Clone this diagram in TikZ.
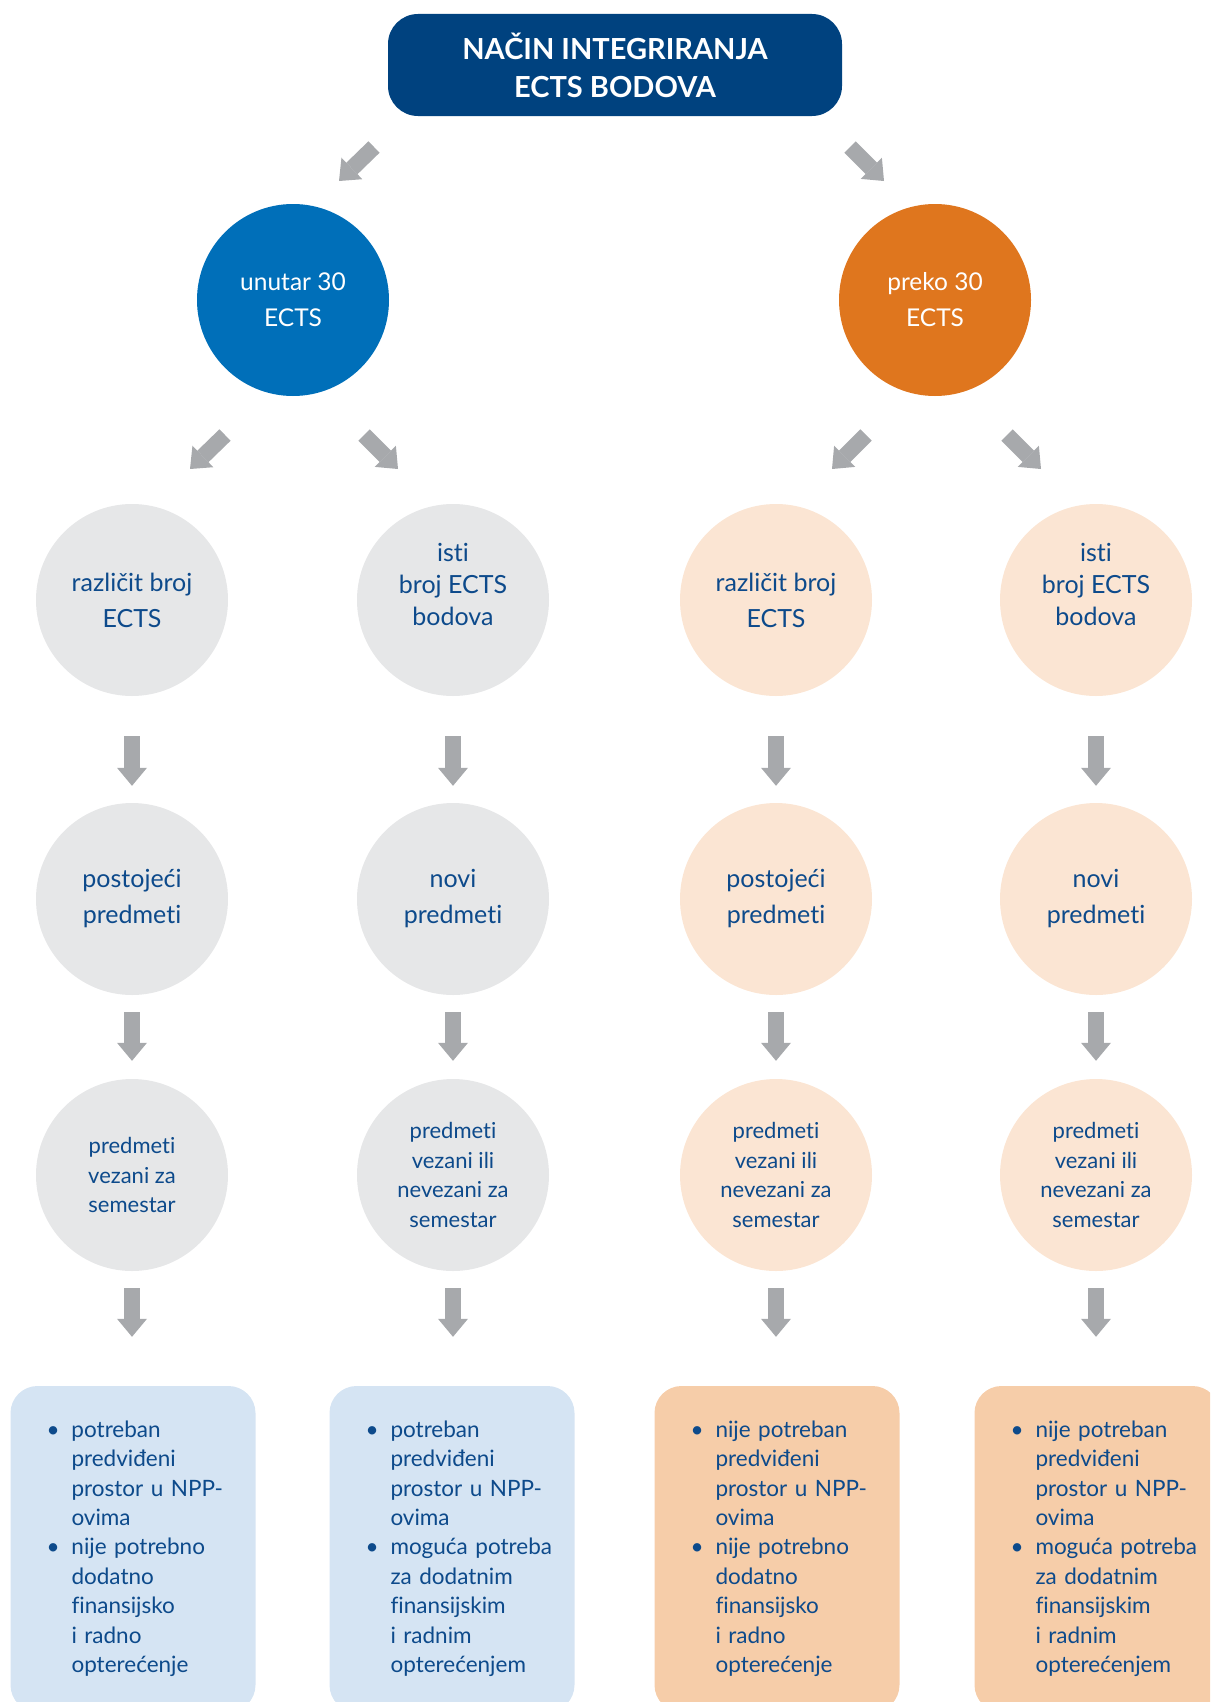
\documentclass[tikz,border=0pt]{standalone}
\usepackage{fontspec}
\setmainfont{Lato}[Ligatures=NoCommon]
\usetikzlibrary{arrows.meta,calc}
\definecolor{navy}{HTML}{00427F}
\definecolor{cblue}{HTML}{006FB9}
\definecolor{corange}{HTML}{DF761E}
\definecolor{cgray}{HTML}{E6E7E8}
\definecolor{cpeach}{HTML}{FBE5D3}
\definecolor{bblue}{HTML}{D5E4F3}
\definecolor{bpeach}{HTML}{F6CDA9}
\definecolor{arrgray}{HTML}{A7A9AC}
\definecolor{tnavy}{HTML}{0D4A8B}
\newcommand\bul{\makebox[25pt][l]{•}}
\begin{document}
\begin{tikzpicture}[x=1pt,y=-1pt,
  topbox/.style={fill=navy, rounded corners=30pt, minimum width=454pt, minimum height=102pt,
    text=white, font=\bfseries\fontsize{29}{38}\selectfont, align=center, inner sep=0pt},
  bigc/.style={circle, minimum size=192pt, inner sep=0pt, text=white, align=center,
    font=\fontsize{24.5}{36}\selectfont},
  midc/.style={circle, minimum size=192pt, inner sep=0pt, text=tnavy, align=center,
    font=\fontsize{25}{36}\selectfont},
  smallc/.style={circle, minimum size=192pt, inner sep=0pt, text=tnavy, align=center,
    font=\fontsize{22}{29.5}\selectfont},
  botbox/.style={rounded corners=27pt, minimum width=245pt, minimum height=326pt,
    inner sep=0pt, text=tnavy, text width=173pt, align=left,
    font=\fontsize{22.5}{29.4}\selectfont},
  fatarrow/.style={draw=arrgray, line width=16pt,
    -{Triangle[width=30pt,length=18pt,line width=0pt]}}
]
\useasboundingbox (0,0) rectangle (1210,1702);
\clip (0,0) rectangle (1210,1702);

% top
\node[topbox] (top) at (615,65) {NAČIN INTEGRIRANJA\\ECTS BODOVA};
\node[bigc, fill=cblue] (un) at (293,300) {unutar 30\\ECTS};
\node[bigc, fill=corange] (pr) at (935,300) {preko 30\\ECTS};

% row 1
\node[midc, fill=cgray] (a1) at (132,600) {različit broj\\ECTS};
\node[midc, fill=cgray, font=\fontsize{25}{32}\selectfont] (b1) at (453,600) {isti\\broj ECTS\\bodova\\\mbox{}};
\node[midc, fill=cpeach] (c1) at (776,600) {različit broj\\ECTS};
\node[midc, fill=cpeach, font=\fontsize{25}{32}\selectfont] (d1) at (1096,600) {isti\\broj ECTS\\bodova\\\mbox{}};

% row 2
\node[midc, fill=cgray] (a2) at (132,899) {postojeći\\predmeti};
\node[midc, fill=cgray] (b2) at (453,899) {novi\\predmeti};
\node[midc, fill=cpeach] (c2) at (776,899) {postojeći\\predmeti};
\node[midc, fill=cpeach] (d2) at (1096,899) {novi\\predmeti};

% row 3
\node[smallc, fill=cgray] (a3) at (132,1175) {predmeti\\vezani za\\semestar};
\node[smallc, fill=cgray] (b3) at (453,1175) {predmeti\\vezani ili\\nevezani za\\semestar};
\node[smallc, fill=cpeach] (c3) at (776,1175) {predmeti\\vezani ili\\nevezani za\\semestar};
\node[smallc, fill=cpeach] (d3) at (1096,1175) {predmeti\\vezani ili\\nevezani za\\semestar};

% bottom boxes
\node[botbox, fill=bblue] (a4) at (133,1549) {%
\begin{tabular}{@{}l@{}l@{}}
\bul & potreban\\ & predviđeni\\ & prostor u NPP-\\ & ovima\\
\bul & nije potrebno\\ & dodatno\\ & finansijsko\\ & i radno\\ & opterećenje
\end{tabular}};
\node[botbox, fill=bblue] (b4) at (452,1549) {%
\begin{tabular}{@{}l@{}l@{}}
\bul & potreban\\ & predviđeni\\ & prostor u NPP-\\ & ovima\\
\bul & moguća potreba\\ & za dodatnim\\ & finansijskim\\ & i radnim\\ & opterećenjem
\end{tabular}};
\node[botbox, fill=bpeach] (c4) at (777,1549) {%
\begin{tabular}{@{}l@{}l@{}}
\bul & nije potreban\\ & predviđeni\\ & prostor u NPP-\\ & ovima\\
\bul & nije potrebno\\ & dodatno\\ & finansijsko\\ & i radno\\ & opterećenje
\end{tabular}};
\node[botbox, fill=bpeach] (d4) at (1097,1549) {%
\begin{tabular}{@{}l@{}l@{}}
\bul & nije potreban\\ & predviđeni\\ & prostor u NPP-\\ & ovima\\
\bul & moguća potreba\\ & za dodatnim\\ & finansijskim\\ & i radnim\\ & opterećenjem
\end{tabular}};

% arrow end points
\coordinate (t1s) at (374,147); \coordinate (t1e) at (339,181);
\coordinate (t2s) at (850,147); \coordinate (t2e) at (884,181);
\coordinate (u1s) at (225,435); \coordinate (u1e) at (190,469);
\coordinate (u2s) at (364,435); \coordinate (u2e) at (398,469);
\coordinate (p1s) at (866,435); \coordinate (p1e) at (832,469);
\coordinate (p2s) at (1007,435); \coordinate (p2e) at (1041,469);

\draw[fatarrow] (t1s) -- (t1e);
\draw[fatarrow] (t2s) -- (t2e);
\draw[fatarrow] (u1s) -- (u1e);
\draw[fatarrow] (u2s) -- (u2e);
\draw[fatarrow] (p1s) -- (p1e);
\draw[fatarrow] (p2s) -- (p2e);

% vertical arrows
\foreach \p/\q in {a1/a2,b1/b2,c1/c2,d1/d2}{
  \draw[fatarrow, shorten <=40pt, shorten >=17pt] (\p.south) -- (\q.north);
}
\foreach \p/\q in {a2/a3,b2/b3,c2/c3,d2/d3}{
  \draw[fatarrow, shorten <=17pt, shorten >=18pt] (\p.south) -- (\q.north);
}
\foreach \p/\q in {a3/a4,b3/b4,c3/c4,d3/d4}{
  \draw[fatarrow, shorten <=17pt, shorten >=49pt] (\p.south) -- (\p.south |- \q.north);
}
\end{tikzpicture}
\end{document}
